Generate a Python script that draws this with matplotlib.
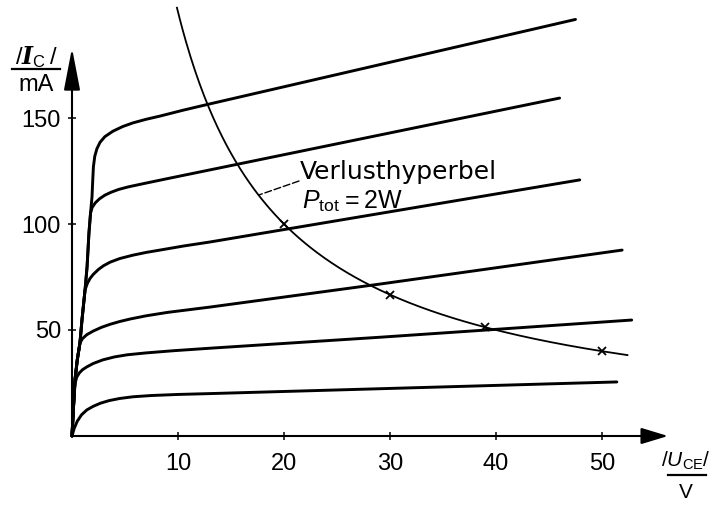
import matplotlib
matplotlib.use("Agg")
import numpy as np
import matplotlib.pyplot as plt

plt.rcParams["font.family"] = ["Liberation Sans", "DejaVu Sans"]
plt.rcParams["mathtext.fontset"] = "custom"
plt.rcParams["mathtext.rm"] = "Liberation Sans"
plt.rcParams["mathtext.sf"] = "Liberation Sans:italic"
plt.rcParams["mathtext.it"] = "DejaVu Serif:italic:bold"
plt.rcParams["mathtext.bf"] = "Liberation Sans:bold"

# Output characteristics I_C (mA) over U_CE (V), one curve per base-current step
u1 = [0, 0.2, 0.5, 0.9, 1.4, 2.0, 2.7, 3.5, 4.5, 5.75, 7.5, 10.0, 13.0, 51.4]
i1 = [0, 3.5, 7.0, 10.0, 12.3, 14.0, 15.5, 16.7, 17.7, 18.5, 19.1, 19.6, 20.0, 25.5]

u2 = [0, 0.1, 0.2, 0.3, 0.45, 0.7, 1.0, 1.4, 2.0, 2.9, 4.0, 5.2, 7.0, 9.5, 13.0, 29.1, 39.1, 52.8]
i2 = [0, 10.0, 19.0, 25.0, 27.8, 29.8, 31.3, 32.6, 34.2, 35.9, 37.3, 38.3, 39.2, 40.2, 41.4, 46.6, 50.0, 54.7]

u3 = [0, 0.1, 0.2, 0.28, 0.5, 0.75, 1.0, 1.4, 2.0, 2.8, 3.6, 4.5, 5.5, 7.0, 9.0, 13.0, 29.1, 51.9]
i3 = [0, 10.0, 19.0, 26.4, 36.0, 43.9, 46.0, 47.8, 49.5, 51.3, 52.7, 54.0, 55.2, 56.7, 58.3, 60.8, 71.7, 87.7]

u4 = [0, 0.1, 0.2, 0.28, 0.5, 0.75, 0.94, 1.23, 1.45, 1.7, 2.0, 2.5, 3.0, 3.6, 4.5, 5.75, 7.0, 8.3, 10.5, 13.0, 47.9]
i4 = [0, 10.0, 19.0, 26.4, 36.0, 43.9, 54.7, 68.9, 72.0, 74.3, 76.2, 78.6, 80.4, 82.0, 83.7, 85.3, 86.6, 87.7, 89.6, 91.5, 120.8]

u5 = [0, 0.1, 0.2, 0.28, 0.5, 0.75, 0.94, 1.23, 1.42, 1.6, 1.75, 1.9, 2.2, 2.6, 3.1, 3.7, 4.4, 5.3, 6.7, 9.0, 12.7, 46.0]
i5 = [0, 10.0, 19.0, 26.4, 36.0, 43.9, 54.7, 68.9, 79.7, 95.8, 105.2, 107.8, 110.0, 111.9, 113.6, 115.0, 116.3, 117.5, 119.0, 121.4, 125.2, 159.4]

u6 = [0, 0.1, 0.2, 0.28, 0.5, 0.75, 0.94, 1.23, 1.42, 1.6, 1.75, 1.89, 1.95, 2.02, 2.15, 2.35, 2.64, 3.1, 3.87, 4.8, 5.75, 7.0, 8.3, 10.5, 12.7, 47.5]
i6 = [0, 10.0, 19.0, 26.4, 36.0, 43.9, 54.7, 68.9, 79.7, 95.8, 105.2, 113.0, 120.0, 127.0, 132.0, 135.5, 138.5, 141.2, 143.8, 146.0, 147.7, 149.4, 150.9, 153.7, 156.3, 196.5]

curves_u = [u1, u2, u3, u4, u5, u6]
curves_i = [i1, i2, i3, i4, i5, i6]

# Power dissipation limit
p_tot_w = 2.0
hyp_u_range = (9.9, 52.4)
marker_u = [20, 30, 39, 50]

x_ticks = [10, 20, 30, 40, 50]
y_ticks = [50, 100, 150]
x_tick_labels = ["10", "20", "30", "40", "50"]
y_tick_labels = ["50", "100", "150"]

# pixel-space layout of the drawing
W, H = 712, 505
X0, Y0 = 72, 436          # origin in pixels
SX, SY = 10.6, 2.12       # pixels per V, pixels per mA

fig = plt.figure(figsize=(W / 100, H / 100), dpi=100)
ax = fig.add_axes([0, 0, 1, 1])
ax.set_xlim(-X0 / SX, (W - X0) / SX)
ax.set_ylim(-(H - Y0) / SY, Y0 / SY)
ax.set_facecolor("white")

x_tip = (668 - X0) / SX
y_tip = (Y0 - 48) / SY
x_head = 23 / SX
y_head = 36 / SY

for side in ("top", "right"):
    ax.spines[side].set_visible(False)
ax.spines["left"].set_position(("data", 0))
ax.spines["bottom"].set_position(("data", 0))
ax.spines["left"].set_bounds(0, y_tip - y_head)
ax.spines["bottom"].set_bounds(0, x_tip - x_head)
for side in ("left", "bottom"):
    ax.spines[side].set_linewidth(1.5)
    ax.spines[side].set_capstyle("butt")

ax.annotate("", xy=(x_tip, 0), xytext=(x_tip - x_head - 0.5, 0),
            arrowprops=dict(arrowstyle="-|>,head_length=1.65,head_width=0.5",
                            mutation_scale=10, lw=1.5, color="black",
                            shrinkA=0, shrinkB=0))
ax.annotate("", xy=(0, y_tip), xytext=(0, y_tip - y_head - 2),
            arrowprops=dict(arrowstyle="-|>,head_length=2.6,head_width=0.5",
                            mutation_scale=10, lw=1.5, color="black",
                            shrinkA=0, shrinkB=0))

ax.set_xticks(x_ticks)
ax.set_xticklabels(x_tick_labels)
ax.set_yticks(y_ticks)
ax.set_yticklabels(y_tick_labels)
ax.tick_params(axis="both", direction="inout", length=6, width=1.1,
               labelsize=17, colors="black")
ax.tick_params(axis="x", pad=9)
ax.tick_params(axis="y", pad=5)

for u, i in zip(curves_u, curves_i):
    ax.plot(u, i, color="black", lw=2.1, solid_capstyle="round",
            solid_joinstyle="round")

u_h = np.linspace(hyp_u_range[0], hyp_u_range[1], 300)
ax.plot(u_h, p_tot_w * 1000 / u_h, color="black", lw=1.3)
mu = np.array(marker_u, dtype=float)
ax.plot(mu, p_tot_w * 1000 / mu, ls="none", marker="x", ms=6,
        mew=1.3, color="black")

# label for the hyperbola
ax.text((300 - X0) / SX, (Y0 - 179) / SY, "Verlusthyperbel",
        fontsize=18, family="DejaVu Sans", va="baseline", ha="left")
ax.text((302 - X0) / SX, (Y0 - 208) / SY,
        r"$\mathsf{P}_{\mathrm{tot}}$" + "\u2009=\u20092W",
        fontsize=18, va="baseline", ha="left")
u_lead = 17.6
ax.annotate("", xy=(u_lead, p_tot_w * 1000 / u_lead),
            xytext=((299 - X0) / SX, (Y0 - 181) / SY),
            arrowprops=dict(arrowstyle="-", lw=1.0, color="black",
                            linestyle=(0, (5, 2)), shrinkA=0, shrinkB=0))

# axis quantity labels written as fractions
def frac_label(cx, y_num, y_bar, y_den, num, den, x_left, x_right, size):
    fig.text(cx / W, 1 - y_num / H, num, fontsize=size, ha="center",
             va="baseline")
    fig.add_artist(plt.Line2D([x_left / W, x_right / W],
                              [1 - y_bar / H, 1 - y_bar / H],
                              transform=fig.transFigure, color="black",
                              lw=1.6))
    fig.text(cx / W, 1 - y_den / H, den, fontsize=size, ha="center",
             va="baseline")

frac_label(36, 64, 69, 91, r"$/I_{\mathrm{C}}\,/$", "mA", 12, 60, 17)
frac_label(686, 467, 475, 498, r"$/\mathsf{U}_{\mathrm{CE}}/$", "V", 668, 706, 15)

fig.savefig("out.png", dpi=100, facecolor="white")
